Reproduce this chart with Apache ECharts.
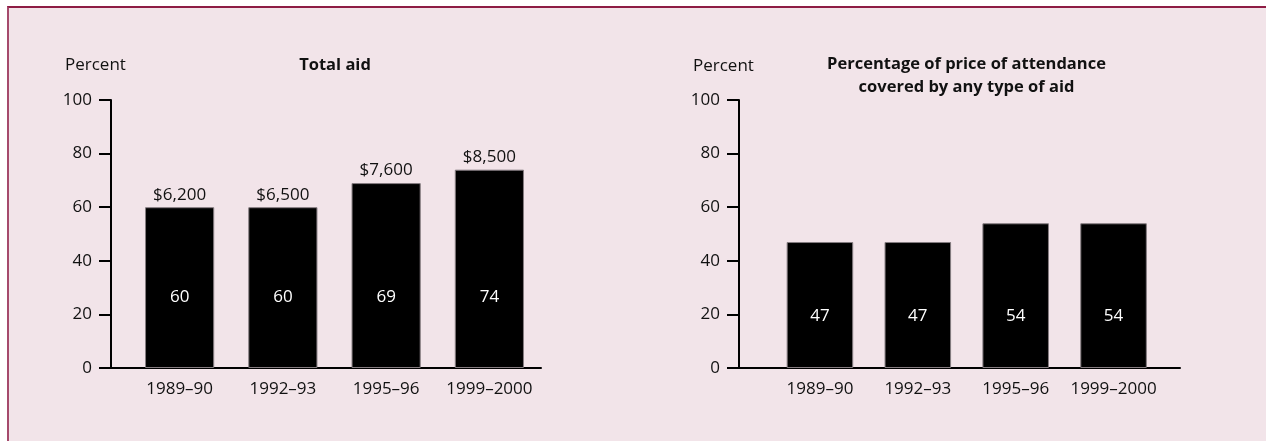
<!DOCTYPE html>
<html><head><meta charset="utf-8">
<script src="https://cdn.jsdelivr.net/npm/echarts@6/dist/echarts.min.js"></script>
<style>
html,body{margin:0;padding:0;background:#fff;}
#wrap{position:relative;width:1266px;height:441px;overflow:hidden;}
#frame{position:absolute;left:7px;top:6px;width:1300px;height:500px;background:#f2e4e9;border-top:2px solid #8e1c44;border-left:2px solid #a54a6c;}
#chart{position:absolute;left:0;top:0;width:1266px;height:441px;}
</style></head>
<body><div id="wrap"><div id="frame"></div><div id="chart"></div></div>
<script>
// ---- data ----
const categories = ['1989\u201390', '1992\u201393', '1995\u201396', '1999\u20132000'];
const totalAidPct = [60, 60, 69, 74];
const totalAidDollars = ['$6,200', '$6,500', '$7,600', '$8,500'];
const priceCoveredPct = [47, 47, 54, 54];
const leftTitle = 'Total aid';
const rightTitle = 'Percentage of price of attendance\ncovered by any type of aid';
const yAxisName = 'Percent';

// ---- styling ----
const FONT = '"Open Sans", "Noto Sans", sans-serif';
const TXT = '#111';
const base = { fontFamily: FONT, fontSize: 17, color: TXT };
const titleBase = { fontFamily: FONT, fontSize: 16.5, color: TXT, fontWeight: 'bold' };

const chart = echarts.init(document.getElementById('chart'), null, { renderer: 'canvas' });

function axisGrid(left, right, top) { return { left: left, width: right - left, top: top, height: 368 - top }; }

const grids = [
  axisGrid(111, 541, 100),   // 0: left axes
  axisGrid(128, 541, 100),   // 1: left bars
  axisGrid(739, 1180, 100),  // 2: right axes
  axisGrid(771, 1162.5, 100) // 3: right bars
];

function lineXAxis(g) {
  return { gridIndex: g, type: 'value', min: 0, max: 1,
    axisLine: { show: true, onZero: false, lineStyle: { color: '#000', width: 2 } },
    axisTick: { show: false }, axisLabel: { show: false }, splitLine: { show: false } };
}
function catXAxis(g) {
  return { gridIndex: g, type: 'category', data: categories,
    axisLine: { show: false }, axisTick: { show: false },
    axisLabel: Object.assign({}, base, { margin: 13, interval: 0 }) };
}
function valYAxis(g) {
  return { gridIndex: g, type: 'value', min: 0, max: 100, interval: 20,
    axisLine: { show: true, onZero: false, lineStyle: { color: '#000', width: 2 } },
    axisTick: { show: true, length: 12, lineStyle: { color: '#000', width: 2 } },
    axisLabel: Object.assign({}, base, { margin: 19 }),
    splitLine: { show: false } };
}
function hiddenYAxis(g) {
  return { gridIndex: g, type: 'value', min: 0, max: 100, show: false, splitLine: { show: false } };
}

const barStyle = { color: '#000', borderColor: '#857c80', borderWidth: 1 };

const option = {
  animation: false,
  backgroundColor: 'transparent',
  title: [
    { text: yAxisName, left: 65, top: 55, padding: 0, textStyle: Object.assign({}, base, { fontWeight: 'normal', lineHeight: 20 }) },
    { text: leftTitle, left: 335, top: 56, padding: 0, textAlign: 'center', textStyle: Object.assign({}, titleBase, { lineHeight: 19 }) },
    { text: yAxisName, left: 693, top: 56, padding: 0, textStyle: Object.assign({}, base, { fontWeight: 'normal', lineHeight: 20 }) },
    { text: rightTitle, left: 966.5, top: 53, padding: 0, textAlign: 'center', textStyle: Object.assign({}, titleBase, { lineHeight: 23 }) }
  ],
  grid: grids,
  xAxis: [lineXAxis(0), catXAxis(1), lineXAxis(2), catXAxis(3)],
  yAxis: [valYAxis(0), hiddenYAxis(1), valYAxis(2), hiddenYAxis(3)],
  series: [
    { type: 'bar', xAxisIndex: 1, yAxisIndex: 1, data: totalAidPct, barCategoryGap: '33%', barGap: '-100%',
      itemStyle: barStyle,
      label: { show: true, position: 'insideBottom', distance: 62, fontFamily: FONT, fontSize: 17, color: '#fff' } },
    { type: 'bar', xAxisIndex: 1, yAxisIndex: 1, data: totalAidPct, barCategoryGap: '33%', barGap: '-100%',
      itemStyle: { color: 'rgba(0,0,0,0)' }, silent: true,
      label: { show: true, position: 'top', distance: 4, fontFamily: FONT, fontSize: 17, color: TXT,
        formatter: function (p) { return totalAidDollars[p.dataIndex]; } } },
    { type: 'bar', xAxisIndex: 3, yAxisIndex: 3, data: priceCoveredPct, barCategoryGap: '32%',
      itemStyle: barStyle,
      label: { show: true, position: 'insideBottom', distance: 43, fontFamily: FONT, fontSize: 17, color: '#fff' } }
  ]
};
chart.setOption(option);
</script>
</body></html>
